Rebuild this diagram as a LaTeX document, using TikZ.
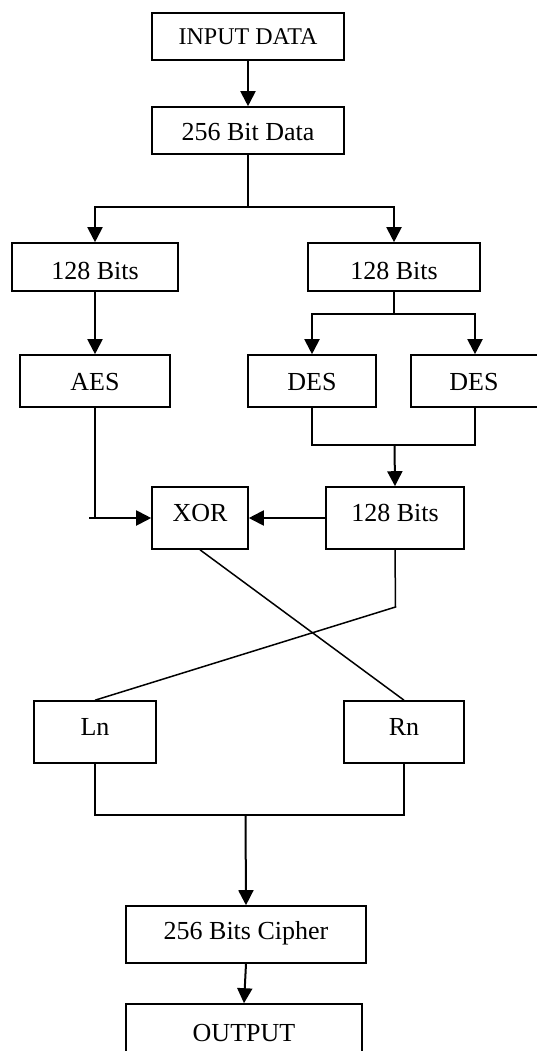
\documentclass[tikz,border=0pt]{standalone}
\usepackage{fontspec}
\setmainfont{Liberation Serif}
\usetikzlibrary{arrows.meta}
\begin{document}
\begin{tikzpicture}[x=1pt,y=-1pt,
  box/.style={draw=black, line width=1.6pt, rectangle, inner sep=0pt},
  lbl/.style={inner sep=0pt, text height=17.2pt, text depth=0pt,
              font=\fontsize{26}{30}\selectfont},
  plain/.style={draw=black, line width=1.5pt},
  flow/.style={draw=black, line width=2pt,
               -{Triangle[length=15pt,width=15pt]}}]
\useasboundingbox (0,0) rectangle (537,1051);
\clip (0,0) rectangle (537,1051);

% boxes
\node[box, minimum width=192pt, minimum height=47pt] (in)   at (248,36.5)  {};
\node[box, minimum width=192pt, minimum height=47pt] (d256) at (248,130.5) {};
\node[box, minimum width=166pt, minimum height=48pt] (b1)   at (95,267)    {};
\node[box, minimum width=172pt, minimum height=48pt] (b2)   at (394,267)   {};
\node[box, minimum width=150pt, minimum height=52pt] (aes)  at (95,381)    {};
\node[box, minimum width=128pt, minimum height=52pt] (des1) at (312,381)   {};
\node[box, minimum width=128pt, minimum height=52pt] (des2) at (475,381)   {};
\node[box, minimum width=96pt,  minimum height=62pt] (xor)  at (200,518)   {};
\node[box, minimum width=138pt, minimum height=62pt] (b3)   at (395,518)   {};
\node[box, minimum width=122pt, minimum height=62pt] (ln)   at (95,732)    {};
\node[box, minimum width=120pt, minimum height=62pt] (rn)   at (404,732)   {};
\node[box, minimum width=240pt, minimum height=57pt] (ciph) at (246,934.5) {};
\node[box, minimum width=236pt, minimum height=57pt] (outp) at (244,1032.5){};

% labels
\node[lbl, text height=15.9pt, font=\fontsize{24}{28}\selectfont]
           (in-t)   at (248,37)    {INPUT DATA};
\node[lbl] (d256-t) at (248,132)   {256 Bit Data};
\node[lbl] (b1-t)   at (95,270.5)  {128 Bits};
\node[lbl] (b2-t)   at (394,270.5) {128 Bits};
\node[lbl] (aes-t)  at (95,381.5)  {AES};
\node[lbl] (des1-t) at (312,381.5) {DES};
\node[lbl] (des2-t) at (474,381.5) {DES};
\node[lbl] (xor-t)  at (200,512.5) {XOR};
\node[lbl] (b3-t)   at (395,512.5) {128 Bits};
\node[lbl] (ln-t)   at (95,727)    {Ln};
\node[lbl] (rn-t)   at (404,727)   {Rn};
\node[lbl] (ciph-t) at (246,931)   {256 Bits Cipher};
\node[lbl] (outp-t) at (244,1032.5){OUTPUT};

% junction points
\coordinate (split1) at (248,207);
\coordinate (split2) at (394,314);
\coordinate (merge1) at (394.5,445);
\coordinate (aesbend) at (95,518);
\coordinate (aesstub) at (89,518);
\coordinate (b3bend) at (395.5,607);
\coordinate (merge2) at (245.5,815);

% top: input to the two halves
\draw[flow] (in) -- (d256);
\draw[plain] (d256.south) -- (split1);
\draw[flow] (split1) -| (b1.north);
\draw[flow] (split1) -| (b2.north);

% left half through AES
\draw[flow] (b1) -- (aes);

% right half through two DES
\draw[plain] (b2.south) -- (split2);
\draw[flow] (split2) -| (des1.north);
\draw[flow] (split2) -| (des2.north);
\draw[plain] (des1.south) |- (merge1) -| (des2.south);
\draw[flow] (merge1) -- (b3.north);

% XOR stage
\draw[plain] (aes.south) -- (aesbend);
\draw[flow] (aesstub) -- (xor.west);
\draw[flow] (b3.west) -- (xor.east);

% crossing to Ln / Rn
\draw[plain] (b3.south) -- (b3bend) -- (ln.north);
\draw[plain] (xor.south) -- (rn.north);

% recombination and output
\draw[plain] (ln.south) |- (merge2) -| (rn.south);
\draw[flow] (merge2) -- (ciph.north);
\draw[flow] (ciph.south) -- (outp.north);
\end{tikzpicture}
\end{document}
